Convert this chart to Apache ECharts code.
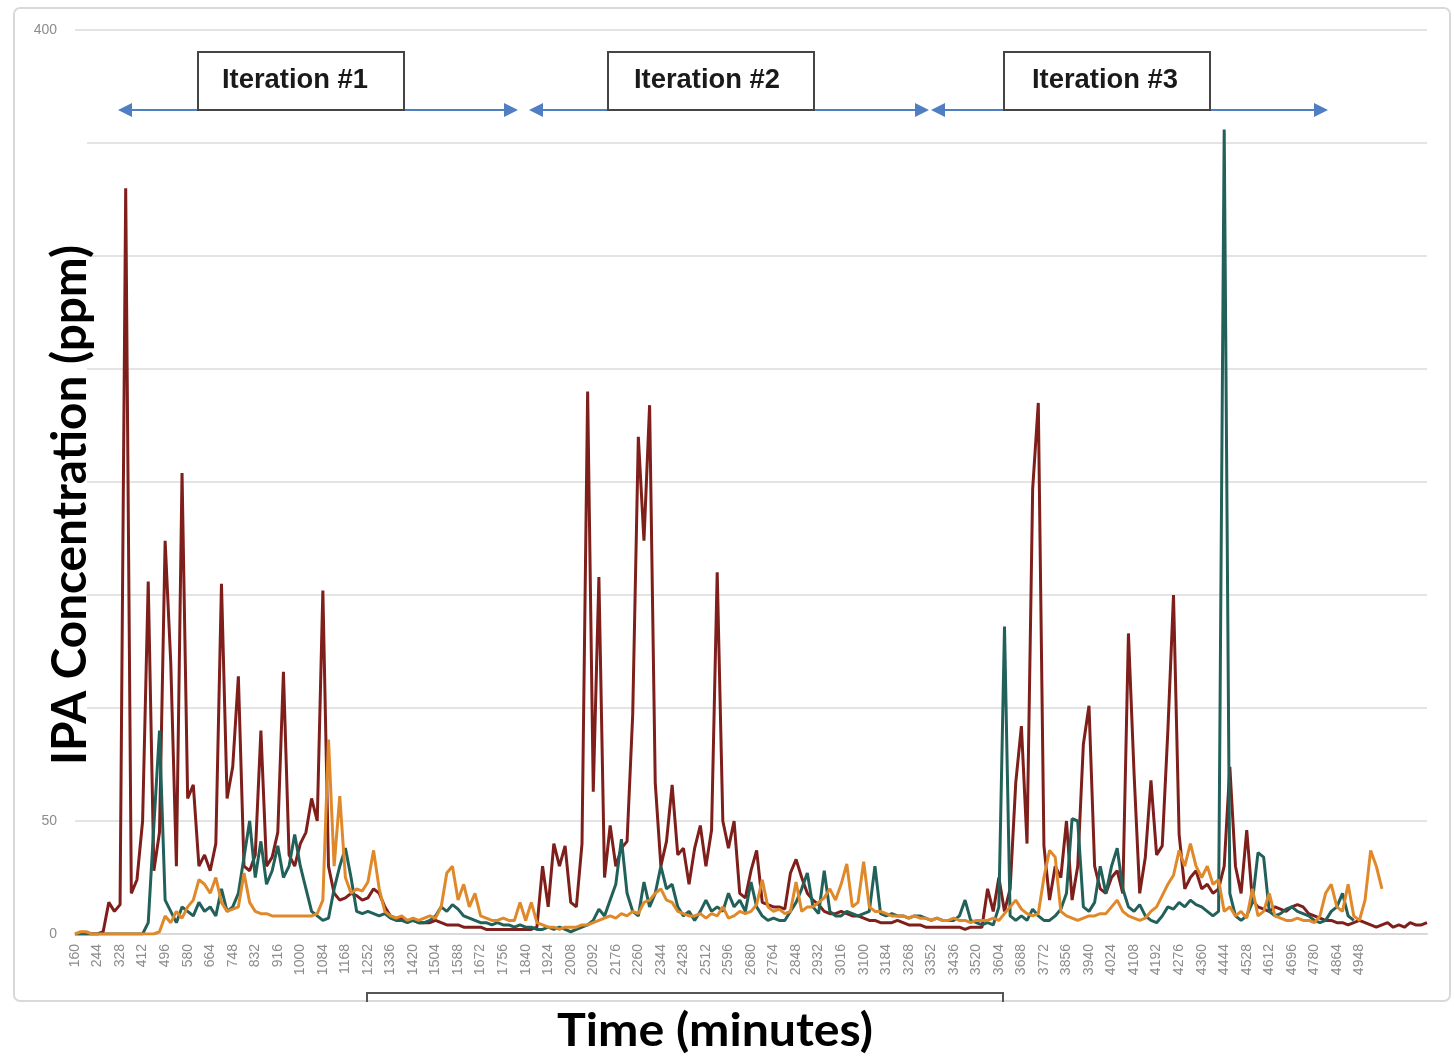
<!DOCTYPE html>
<html>
<head>
<meta charset="utf-8">
<script src="https://cdn.jsdelivr.net/npm/echarts@6/dist/echarts.min.js"></script>
<style>
html,body{margin:0;padding:0;background:#fff;}
#chart{width:1454px;height:1056px;}
</style>
</head>
<body>
<div id="chart"></div>
<script>
// ---- data ----
const startMinute = 160;
const stepMinutes = 21;
const pointCount = 241;
const timeCategories = [];
for (let i = 0; i < pointCount; i++) timeCategories.push(String(startMinute + stepMinutes * i));

const xTickLabels = [160,244,328,412,496,580,664,748,832,916,1000,1084,1168,1252,1336,1420,1504,1588,1672,1756,1840,1924,2008,2092,2176,2260,2344,2428,2512,2596,2680,2764,2848,2932,3016,3100,3184,3268,3352,3436,3520,3604,3688,3772,3856,3940,4024,4108,4192,4276,4360,4444,4528,4612,4696,4780,4864,4948];
const yTickLabels = [0, 50, 400];

const redSeries = [
0,0,0,0,0,1,14,10,13,330,
18,24,50,156,28,45,174,120,30,204,
60,66,30,35,28,40,155,60,74,114,
30,28,35,90,30,34,45,116,35,30,
40,45,60,50,152,30,18,15,16,18,
17,15,16,20,18,12,8,7,7,6,
6,5,5,5,6,5,4,4,4,3,
3,3,3,2,2,2,2,2,2,2,
2,2,3,30,12,40,30,39,14,12,
40,240,63,158,25,48,30,38,41,97,
220,174,234,67,30,41,66,35,38,22,
38,48,30,46,160,50,38,50,18,16,
28,37,14,13,12,12,11,27,33,25,
18,15,13,10,9,9,10,9,8,8,
7,6,6,5,5,5,6,5,4,4,
4,3,3,3,3,3,3,3,2,3,
3,3,20,10,25,10,20,67,92,40,
197,235,39,15,30,25,50,15,30,84,
101,30,20,18,25,28,18,133,71,18,
34,68,35,39,90,150,44,20,25,28,
20,22,18,20,30,74,30,18,46,15,
12,11,10,12,11,10,12,13,12,9,
8,7,6,6,5,5,4,5,6,5,
4,3,4,5,3,4,3,5,4,4,
5
];

const greenSeries = [
0,0,0,0,0,0,0,0,0,0,
0,0,0,5,48,90,15,10,5,12,
10,8,14,10,12,8,20,10,12,18,
34,50,25,41,22,28,39,25,30,44,
30,20,10,8,6,7,20,30,38,25,
10,9,10,9,8,9,7,6,6,5,
6,5,5,6,8,12,10,13,11,8,
7,6,5,5,4,5,4,4,3,4,
3,3,2,2,3,2,3,2,1,2,
3,4,6,11,8,15,22,42,18,10,
8,23,12,18,30,20,22,12,8,10,
6,10,15,10,12,10,18,12,15,10,
23,12,8,6,7,6,6,10,14,20,
27,12,9,28,10,8,8,10,9,8,
9,10,30,9,8,9,8,8,7,8,
8,7,6,7,6,6,6,8,15,6,
5,4,5,4,12,136,8,6,8,6,
11,8,6,6,8,11,18,51,50,12,
10,14,30,18,30,38,20,12,10,13,
8,6,5,8,12,11,14,12,15,13,
12,10,8,10,356,18,8,6,8,14,
36,34,10,8,9,11,12,10,9,8,
6,5,6,10,12,18,8,6,null,null,
null,null,null,null,null,null,null,null,null,null,
null
];

const orangeSeries = [
0,1,1,0,0,0,0,0,0,0,
0,0,0,0,0,1,8,5,10,7,
12,15,24,22,18,25,14,10,11,12,
27,14,10,9,9,8,8,8,8,8,
8,8,8,9,15,86,30,61,25,18,
20,19,23,37,20,10,8,7,8,6,
7,6,7,8,7,12,27,30,15,22,
12,18,8,7,6,6,7,6,6,14,
6,14,5,4,3,3,2,3,3,3,
4,4,5,6,7,8,7,9,8,10,
9,14,15,18,20,15,14,10,9,8,
8,9,7,9,8,12,7,8,10,9,
10,13,24,12,10,11,9,10,23,10,
12,12,14,16,20,15,22,31,12,14,
32,12,10,10,9,8,8,8,7,8,
7,7,6,7,6,6,7,6,6,5,
6,6,6,7,6,9,12,15,11,9,
8,9,25,37,34,10,8,7,6,7,
8,8,9,9,12,15,10,8,7,6,
7,10,12,17,22,26,37,30,40,30,
25,30,22,24,10,12,8,10,7,20,
8,10,18,8,7,6,6,7,6,6,
5,8,18,22,12,10,22,8,6,15,
37,30,20,null,null,null,null,null,null,null,
null
];

const iterationLabels = ['Iteration #1', 'Iteration #2', 'Iteration #3'];
const yTitle = 'IPA Concentration (ppm)';
const xTitle = 'Time (minutes)';

// ---- helpers ----
const measureCtx = document.createElement('canvas').getContext('2d');
function fitScale(text, font, target) {
  measureCtx.font = font;
  const w = measureCtx.measureText(text).width;
  return w > 0 ? target / w : 1;
}

const C_RED = '#7e1f1b';
const C_GREEN = '#22615a';
const C_ORANGE = '#e0892a';
const C_ARROW = '#4f7fc2';

const chart = echarts.init(document.getElementById('chart'), null, {renderer: 'canvas'});

const graphics = [];
// outer frame
graphics.push({type: 'rect', z: 0, shape: {x: 14, y: 8, width: 1436, height: 993, r: 6}, style: {fill: 'none', stroke: '#d9d9d9', lineWidth: 2}, silent: true});
// white cover behind the y title
graphics.push({type: 'rect', z: 5, shape: {x: 20, y: 100, width: 67, height: 700}, style: {fill: '#fff'}, silent: true});

// arrows
const arrows = [[118, 518], [529, 929], [931, 1328]];
const arrowY = 110;
arrows.forEach(([a, b]) => {
  graphics.push({type: 'line', z: 20, shape: {x1: a + 10, y1: arrowY, x2: b - 10, y2: arrowY}, style: {stroke: C_ARROW, lineWidth: 2}, silent: true});
  graphics.push({type: 'polygon', z: 20, shape: {points: [[a, arrowY], [a + 14, arrowY - 7], [a + 14, arrowY + 7]]}, style: {fill: C_ARROW}, silent: true});
  graphics.push({type: 'polygon', z: 20, shape: {points: [[b, arrowY], [b - 14, arrowY - 7], [b - 14, arrowY + 7]]}, style: {fill: C_ARROW}, silent: true});
});

// iteration boxes
const boxes = [[198, 295], [608, 707], [1004, 1105]];
const boxFont = 'bold 27px "Liberation Sans"';
boxes.forEach(([bx, cx], k) => {
  graphics.push({type: 'rect', z: 21, shape: {x: bx, y: 52, width: 206, height: 58}, style: {fill: '#fff', stroke: '#454545', lineWidth: 2}, silent: true});
  const s = fitScale(iterationLabels[k], boxFont, 146);
  graphics.push({type: 'text', z: 22, x: cx, y: 81, scaleX: s, scaleY: 1,
    style: {text: iterationLabels[k], font: boxFont, fill: '#1a1a1a', align: 'center', verticalAlign: 'middle'}, silent: true});
});

// bottom partial box
graphics.push({type: 'polyline', z: 3, shape: {points: [[367, 1002], [367, 993], [1003, 993], [1003, 1002]]}, style: {stroke: '#555', lineWidth: 2, fill: 'none'}, silent: true});

// y title
const yFont = 'bold 48px Lato';
graphics.push({type: 'text', z: 30, x: 71, y: 505, rotation: Math.PI / 2,
  scaleX: fitScale(yTitle, yFont, 520), scaleY: 1,
  style: {text: yTitle, font: yFont, fill: '#000', align: 'center', verticalAlign: 'middle'}, silent: true});
// x title
const xFont = 'bold 45px Lato';
graphics.push({type: 'text', z: 30, x: 715, y: 1031,
  scaleX: fitScale(xTitle, xFont, 316), scaleY: 1,
  style: {text: xTitle, font: xFont, fill: '#000', align: 'center', verticalAlign: 'middle'}, silent: true});

const option = {
  animation: false,
  backgroundColor: '#fff',
  grid: {left: 75, right: 27, top: 30, bottom: 122, containLabel: false, outerBoundsMode: 'none'},
  xAxis: {
    type: 'category',
    data: timeCategories,
    boundaryGap: false,
    axisLine: {show: true, lineStyle: {color: '#d9d9d9', width: 2}},
    axisTick: {show: false},
    splitLine: {show: false},
    axisLabel: {
      rotate: 90,
      margin: 10,
      fontSize: 14,
      fontFamily: 'Liberation Sans',
      color: '#8c8c8c',
      interval: (idx, val) => xTickLabels.indexOf(Number(val)) !== -1,
      formatter: (val) => (xTickLabels.indexOf(Number(val)) !== -1 ? val : '')
    }
  },
  yAxis: {
    type: 'value',
    min: 0,
    max: 400,
    interval: 50,
    axisLine: {show: false},
    axisTick: {show: false},
    splitLine: {show: true, lineStyle: {color: '#e4e4e4', width: 2}},
    axisLabel: {
      margin: 18,
      fontSize: 14,
      fontFamily: 'Liberation Sans',
      color: '#8c8c8c',
      formatter: (v) => (yTickLabels.indexOf(v) !== -1 ? String(v) : '')
    }
  },
  series: [
    {name: 'Red', type: 'line', data: redSeries, showSymbol: false, symbol: 'none', z: 2,
      lineStyle: {color: C_RED, width: 3}, itemStyle: {color: C_RED}},
    {name: 'Green', type: 'line', data: greenSeries, showSymbol: false, symbol: 'none', z: 3,
      lineStyle: {color: C_GREEN, width: 3}, itemStyle: {color: C_GREEN}},
    {name: 'Orange', type: 'line', data: orangeSeries, showSymbol: false, symbol: 'none', z: 4,
      lineStyle: {color: C_ORANGE, width: 3}, itemStyle: {color: C_ORANGE}}
  ],
  graphic: graphics
};
chart.setOption(option);
</script>
</body>
</html>
